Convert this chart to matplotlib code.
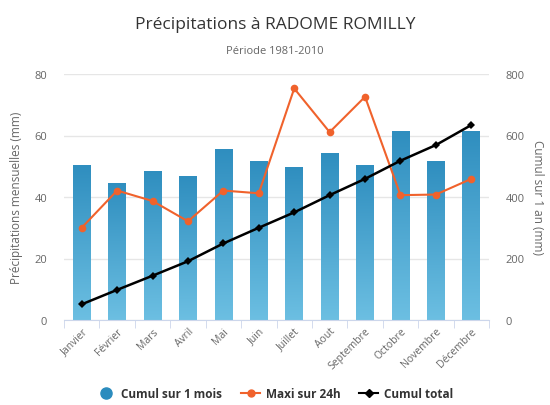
import numpy as np
import matplotlib
matplotlib.use('Agg')
import matplotlib.pyplot as plt
from matplotlib.lines import Line2D

plt.rcParams['font.family'] = ['Open Sans', 'DejaVu Sans']

# data
months = ['Janvier', 'Février', 'Mars', 'Avril', 'Mai', 'Juin', 'Juillet',
          'Aout', 'Septembre', 'Octobre', 'Novembre', 'Décembre']
cumul_mois = [50.4, 44.7, 48.5, 46.8, 55.6, 51.7, 49.9, 54.4, 50.4, 61.4, 51.7, 61.6]
maxi_24h = [30.0, 42.1, 38.7, 32.1, 42.1, 41.2, 75.3, 61.1, 72.6, 40.6, 40.8, 45.9]
cumul_total = [51, 98, 144, 191, 249, 300, 350, 406, 459, 518, 569, 634]

BAR_TOP = '#2f8ebf'
BAR_BOT = '#6cbfe2'
ORANGE = '#f0622c'
GRID = '#e6e6e6'
TXT = '#666666'

fig = plt.figure(figsize=(5.5, 4.06), dpi=100)
ax = fig.add_axes([64 / 550, 1 - 321 / 406, 425 / 550, 246 / 406])
ax2 = ax.twinx()

x = np.arange(len(months))

# bars with vertical gradient
bars = ax.bar(x, cumul_mois, width=0.5, color='none', zorder=2)
grad = np.linspace(0, 1, 256).reshape(-1, 1)
cmap = matplotlib.colors.LinearSegmentedColormap.from_list('g', [BAR_BOT, BAR_TOP])
for b in bars:
    x0, y0 = b.get_x(), b.get_y()
    w, h = b.get_width(), b.get_height()
    im = ax.imshow(grad, cmap=cmap, aspect='auto', origin='lower',
                   extent=[x0, x0 + w, y0, y0 + h], zorder=2)
    im.set_clip_path(b)

ax.plot(x, maxi_24h, color=ORANGE, lw=1.5, marker='o', ms=5.5,
        markeredgewidth=0, zorder=4)
ax2.plot(x, cumul_total, color='black', lw=1.8, marker='D', ms=4,
         markeredgewidth=0, zorder=4)

ax.set_xlim(-0.5, len(months) - 0.5)
ax.set_ylim(0, 80)
ax2.set_ylim(0, 800)
ax.set_yticks([0, 20, 40, 60, 80])
ax2.set_yticks([0, 200, 400, 600, 800])
ax.grid(axis='y', color=GRID, lw=1, zorder=0)
ax.set_axisbelow(True)

for a in (ax, ax2):
    for s in a.spines.values():
        s.set_visible(False)
    a.tick_params(axis='y', length=0, colors=TXT, labelsize=8)
ax.spines['bottom'].set_visible(True)
ax.spines['bottom'].set_color('#ccd6eb')

ax.set_xticks(x)
ax.set_xticklabels(months, rotation=45, ha='right', rotation_mode='anchor',
                   fontsize=7.5, color=TXT)
ax.tick_params(axis='x', length=0, pad=4)
ax.set_xticks(np.arange(-0.5, len(months)), minor=True)
ax.tick_params(axis='x', which='minor', length=6, color='#ccd6eb', direction='out')
ax.tick_params(axis='y', pad=12)
ax2.tick_params(axis='y', pad=12)

ax.set_ylabel('Précipitations mensuelles (mm)', color=TXT, fontsize=8.5, labelpad=8)
ax2.set_ylabel('Cumul sur 1 an (mm)', color=TXT, fontsize=8.5, rotation=270,
               labelpad=14)

fig.text(0.5, 1 - 25 / 406, 'Précipitations à RADOME ROMILLY', ha='center',
         va='center', fontsize=12.5, color='#333333')
fig.text(0.5, 1 - 52 / 406, 'Période 1981-2010', ha='center', va='center',
         fontsize=8, color=TXT)

handles = [
    Line2D([], [], ls='none', marker='o', ms=8, color='#2b8cbe'),
    Line2D([], [], color=ORANGE, lw=1.5, marker='o', ms=5),
    Line2D([], [], color='black', lw=1.5, marker='D', ms=4),
]
labels = ['Cumul sur 1 mois', 'Maxi sur 24h', 'Cumul total']
leg = fig.legend(handles, labels, loc='center', bbox_to_anchor=(0.5, 1 - 395 / 406),
                 ncol=3, frameon=False, fontsize=8.5, handlelength=1.6,
                 columnspacing=1.6, handletextpad=0.5)
for t in leg.get_texts():
    t.set_color('#333333')
    t.set_fontweight('bold')

fig.savefig('out.png', dpi=100)
